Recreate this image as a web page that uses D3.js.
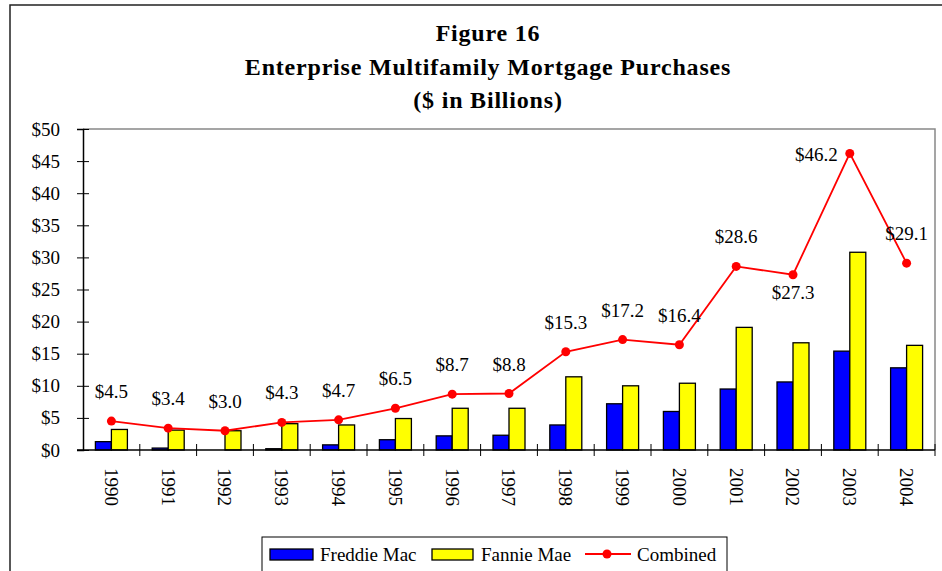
<!DOCTYPE html>
<html>
<head>
<meta charset="utf-8">
<script src="https://cdn.jsdelivr.net/npm/d3@7"></script>
<style>
  body { margin: 0; background: #fff; }
  text { font-family: "Liberation Serif", "Times New Roman", serif; }
</style>
</head>
<body>
<div id="chart"></div>
<script>
// data ($ billions)
const years = ['1990', '1991', '1992', '1993', '1994', '1995', '1996', '1997', '1998', '1999', '2000', '2001', '2002', '2003', '2004']
const freddieMac = [1.3, 0.3, 0.0, 0.2, 0.8, 1.6, 2.2, 2.3, 3.9, 7.2, 6.0, 9.5, 10.6, 15.4, 12.8]
const fannieMae = [3.2, 3.1, 3.0, 4.1, 3.9, 4.9, 6.5, 6.5, 11.4, 10.0, 10.4, 19.1, 16.7, 30.8, 16.3]
const combined = [4.5, 3.4, 3.0, 4.3, 4.7, 6.5, 8.7, 8.8, 15.3, 17.2, 16.4, 28.6, 27.3, 46.2, 29.1]
const yTicks = [0, 5, 10, 15, 20, 25, 30, 35, 40, 45, 50]
const titleLines = ['Figure 16', 'Enterprise Multifamily Mortgage Purchases', '($ in Billions)']

const width = 942
const height = 571
const plot = { left: 83, right: 935, top: 129, bottom: 450 }
const fs = '19px'

const svg = d3.select('#chart')
  .append('svg')
  .attr('width', width)
  .attr('height', height)

// outer frame
svg.append('rect')
  .attr('x', 10).attr('y', 5)
  .attr('width', 950).attr('height', 600)
  .attr('fill', 'none')
  .attr('stroke', '#222')
  .attr('stroke-width', 1.5)

// title
svg.append('g')
  .selectAll('text')
  .data(titleLines)
  .enter()
  .append('text')
  .attr('x', 488)
  .attr('y', (d, i) => [41, 75, 108][i])
  .attr('text-anchor', 'middle')
  .style('font-size', '24px')
  .style('letter-spacing', '0.8px')
  .style('font-weight', 'bold')
  .text(d => d)

// scales
const x = d3.scaleBand().domain(years).range([plot.left, plot.right])
const y = d3.scaleLinear().domain([0, 50]).range([plot.bottom, plot.top])
const barW = 16

// plot area border (top + right, gray)
svg.append('path')
  .attr('d', `M${plot.left},${plot.top}H${plot.right}V${plot.bottom}`)
  .attr('fill', 'none')
  .attr('stroke', '#888')
  .attr('stroke-width', 1.5)

// bars
const groups = svg.append('g').selectAll('g')
  .data(years)
  .enter()
  .append('g')

groups.append('rect')
  .attr('x', d => x(d) + x.bandwidth() / 2 - barW)
  .attr('y', (d, i) => y(freddieMac[i]))
  .attr('width', barW)
  .attr('height', (d, i) => y(0) - y(freddieMac[i]))
  .attr('fill', '#0000ff')
  .attr('stroke', '#000')
  .attr('stroke-width', 1.3)

groups.append('rect')
  .attr('x', d => x(d) + x.bandwidth() / 2)
  .attr('y', (d, i) => y(fannieMae[i]))
  .attr('width', barW)
  .attr('height', (d, i) => y(0) - y(fannieMae[i]))
  .attr('fill', '#ffff00')
  .attr('stroke', '#000')
  .attr('stroke-width', 1.3)

// y axis
const yAxis = svg.append('g')
  .attr('transform', `translate(${plot.left},0)`)
  .call(d3.axisLeft(y).tickValues(yTicks).tickSize(6).tickPadding(17).tickFormat(d => '$' + d))
yAxis.select('.domain').attr('stroke', '#000').attr('stroke-width', 1.5)
yAxis.selectAll('.tick line').attr('x2', 6).attr('x1', -6).attr('stroke', '#000')
yAxis.selectAll('.tick text')
  .style('font-size', fs)
  .style('font-family', '"Liberation Serif", serif')
  .attr('fill', '#000')

// x axis: ticks at category boundaries
const xAxis = svg.append('g')
  .attr('transform', `translate(0,${plot.bottom})`)
xAxis.append('line')
  .attr('x1', plot.left - 6).attr('x2', plot.right)
  .attr('stroke', '#000').attr('stroke-width', 1.5)
xAxis.selectAll('line.tick')
  .data(years)
  .enter()
  .append('line')
  .attr('class', 'tick')
  .attr('x1', d => x(d) + x.bandwidth())
  .attr('x2', d => x(d) + x.bandwidth())
  .attr('y1', -6).attr('y2', 6)
  .attr('stroke', '#000')
xAxis.selectAll('text')
  .data(years)
  .enter()
  .append('text')
  .attr('transform', d => `translate(${x(d) + x.bandwidth() / 2},18) rotate(90)`)
  .attr('dy', '0.35em')
  .style('font-size', fs)
  .text(d => d)

// combined line
const cx = d => x(d) + x.bandwidth() / 2
svg.append('path')
  .datum(years)
  .attr('d', d3.line().x(cx).y((d, i) => y(combined[i])))
  .attr('fill', 'none')
  .attr('stroke', '#ff0000')
  .attr('stroke-width', 1.8)

svg.append('g').selectAll('circle')
  .data(years)
  .enter()
  .append('circle')
  .attr('cx', cx)
  .attr('cy', (d, i) => y(combined[i]))
  .attr('r', 4.5)
  .attr('fill', '#ff0000')

// value labels (a couple are moved off the line)
const labelPlace = { 2002: 'below', 2003: 'left' }
svg.append('g').selectAll('text')
  .data(years)
  .enter()
  .append('text')
  .attr('x', d => labelPlace[d] === 'left' ? cx(d) - 12 : cx(d))
  .attr('y', (d, i) => {
    const py = y(combined[i])
    if (labelPlace[d] === 'below') return py + 24
    if (labelPlace[d] === 'left') return py + 8
    return py - 23
  })
  .attr('text-anchor', d => labelPlace[d] === 'left' ? 'end' : 'middle')
  .style('font-size', fs)
  .text((d, i) => '$' + combined[i].toFixed(1))

// legend
const legend = svg.append('g')
legend.append('rect')
  .attr('x', 262).attr('y', 537)
  .attr('width', 465).attr('height', 45)
  .attr('fill', '#fff')
  .attr('stroke', '#000')
  .attr('stroke-width', 1)

legend.append('rect')
  .attr('x', 270).attr('y', 549).attr('width', 43).attr('height', 11)
  .attr('fill', '#0000ff').attr('stroke', '#000').attr('stroke-width', 1.3)
legend.append('text').attr('x', 320).attr('y', 561).style('font-size', fs).text('Freddie Mac')

legend.append('rect')
  .attr('x', 432).attr('y', 549).attr('width', 41).attr('height', 11)
  .attr('fill', '#ffff00').attr('stroke', '#000').attr('stroke-width', 1.3)
legend.append('text').attr('x', 481).attr('y', 561).style('font-size', fs).text('Fannie Mae')

legend.append('line')
  .attr('x1', 585).attr('x2', 631).attr('y1', 554).attr('y2', 554)
  .attr('stroke', '#ff0000').attr('stroke-width', 1.8)
legend.append('circle').attr('cx', 607).attr('cy', 554).attr('r', 4.5).attr('fill', '#ff0000')
legend.append('text').attr('x', 637).attr('y', 561).style('font-size', fs).text('Combined')
</script>
</body>
</html>
